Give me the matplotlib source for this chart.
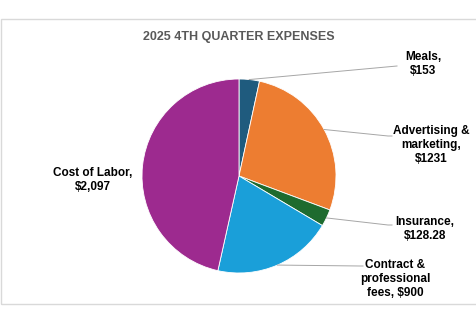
import numpy as np
import matplotlib.pyplot as plt
from matplotlib.patches import Rectangle

# quarterly expense breakdown
categories = ['Meals', 'Advertising &\nmarketing', 'Insurance',
              'Contract &\nprofessional\nfees', 'Cost of Labor']
amounts = [153, 1231, 128.28, 900, 2097]
amount_text = ['$153', '$1231', '$128.28', '$900', '$2,097']
colors = ['#1F5B7E', '#ED7D31', '#1E6B2F', '#1A9FD9', '#9D2A8F']

# label layout in pixel space (origin top-left), and where each leader line ends
label_pos = [(423, 64), (431, 145), (425, 229), (395, 279), (93, 180)]
leader_end = [(397, 66), (388, 136), (388, 225), (360, 266), None]
leader_stub = [0, 4, 4, 3, 0]

W, H = 477, 322
fig = plt.figure(figsize=(W / 100, H / 100), dpi=100)
ax = fig.add_axes([0, 0, 1, 1])

cx, cy, r = 239, H - 176, 97
wedges, _ = ax.pie(amounts, colors=colors, startangle=90, counterclock=False,
                   center=(cx, cy), radius=r,
                   wedgeprops=dict(linewidth=0.6, edgecolor='white'))
ax.set_xlim(0, W)
ax.set_ylim(0, H)
ax.set_aspect('equal')
ax.axis('off')

# chart frame
ax.add_patch(Rectangle((1, H - 304), 490, 285, fill=False,
                       edgecolor='#D9D9D9', linewidth=1, clip_on=False))

ax.text(239, H - 37, '2025 4TH QUARTER EXPENSES', ha='center', va='center',
        fontsize=9, fontweight='bold', color='#595959',
        family='Liberation Sans')

for w, cat, txt, pos, end, stub in zip(wedges, categories, amount_text,
                                       label_pos, leader_end, leader_stub):
    if cat.endswith('fees'):
        label = cat + ', ' + txt
    else:
        label = cat + ',\n' + txt
    ax.text(pos[0], H - pos[1], label, ha='center', va='center',
            fontsize=8.5, fontweight='bold', color='black',
            family='Liberation Sans', linespacing=1.25)
    if end is None:
        continue
    mid = np.deg2rad((w.theta1 + w.theta2) / 2)
    x0 = cx + r * np.cos(mid)
    y0 = cy + r * np.sin(mid)
    xs = [x0, end[0], end[0] + stub]
    ys = [y0, H - end[1], H - end[1]]
    ax.plot(xs, ys, color='#A6A6A6', linewidth=0.7)

fig.savefig('out.png', dpi=100, facecolor='white')
